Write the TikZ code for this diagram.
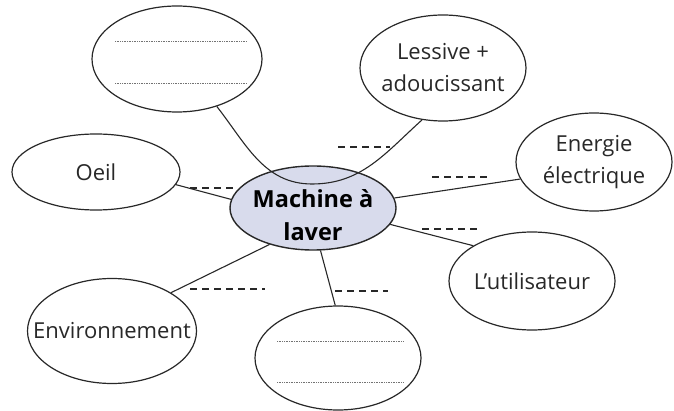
\documentclass[tikz,border=0pt]{standalone}
\usepackage{fontspec}
\setmainfont{Open Sans}
\usetikzlibrary{shapes.geometric}
\definecolor{inkc}{RGB}{40,40,40}
\definecolor{hubfill}{RGB}{216,219,236}
\newcommand\mkz[1]{\makebox[0pt]{#1}}
\begin{document}
\begin{tikzpicture}[x=1pt,y=-1pt,
  bub/.style={ellipse, draw=inkc, line width=1.2pt, inner sep=0pt, align=center,
    font=\fontsize{22}{32}\selectfont, text=inkc},
  hub/.style={bub, fill=hubfill, line width=1.4pt, font=\fontsize{23.5}{33}\selectfont\bfseries, text=black},
  link/.style={draw=inkc, line width=1.1pt},
  fillin/.style={draw=inkc, line width=1.1pt, dash pattern=on 7pt off 5pt},
  dotrule/.style={draw=black!55, line width=0.7pt, dash pattern=on 0.8pt off 0.9pt}
]
\useasboundingbox (0,0) rectangle (674,411);
\fill[white] (0,0) rectangle (674,411);

% bubbles
\node[bub, minimum width=170pt, minimum height=106pt] (tl) at (177,59) {};
\node[bub, minimum width=166pt, minimum height=106pt] (les) at (443,68) {\mkz{Lessive +}\\\mkz{adoucissant}};
\node[bub, minimum width=156pt, minimum height=98pt] (ene) at (594,162) {\mkz{Energie}\\\mkz{électrique}};
\node[bub, minimum width=168pt, minimum height=76pt] (oeil) at (96,172) {\mkz{Oeil}};
\node[bub, minimum width=166pt, minimum height=98pt] (usr) at (532,281) {\mkz{L’utilisateur}};
\node[bub, minimum width=169pt, minimum height=105pt] (env) at (112,331) {\mkz{Environnement}};
\node[bub, minimum width=166pt, minimum height=104pt] (bot) at (338,358) {};
\node[hub, minimum width=166pt, minimum height=84pt] (ctr) at (313,208)
  {\mkz{\raisebox{-7pt}[\height][\depth]{Machine à}}\\\mkz{\raisebox{-7pt}[\height][\depth]{laver}}};

% dotted writing lines in the blank bubbles
\draw[dotrule] (115,41) -- (247,41);
\draw[dotrule] (115,83) -- (247,83);
\draw[dotrule] (277,341) -- (403,341);
\draw[dotrule] (277,382) -- (403,382);

% connectors
\coordinate (ub) at (312,184);
\draw[link] (tl.-50) to[out=-52,in=180] (ub) to[out=0,in=-138] (les.-112);
\draw[link] (oeil.-9) -- (ctr.174);
\draw[link] (ctr.7.5) -- (ene.-167);
\draw[link] (ctr.-12) -- (usr.149);
\draw[link] (ctr.-140) -- (env.33);
\draw[link] (ctr.-80) -- (bot.93);

% blank dashed fill-in lines
\draw[fillin] (190,188) -- (233,188);
\draw[fillin] (338,147) -- (390,147);
\draw[fillin] (432,177) -- (491,177);
\draw[fillin] (422,229) -- (481,229);
\draw[fillin] (190,289) -- (265,289);
\draw[fillin] (335,291) -- (388,291);
\end{tikzpicture}
\end{document}
